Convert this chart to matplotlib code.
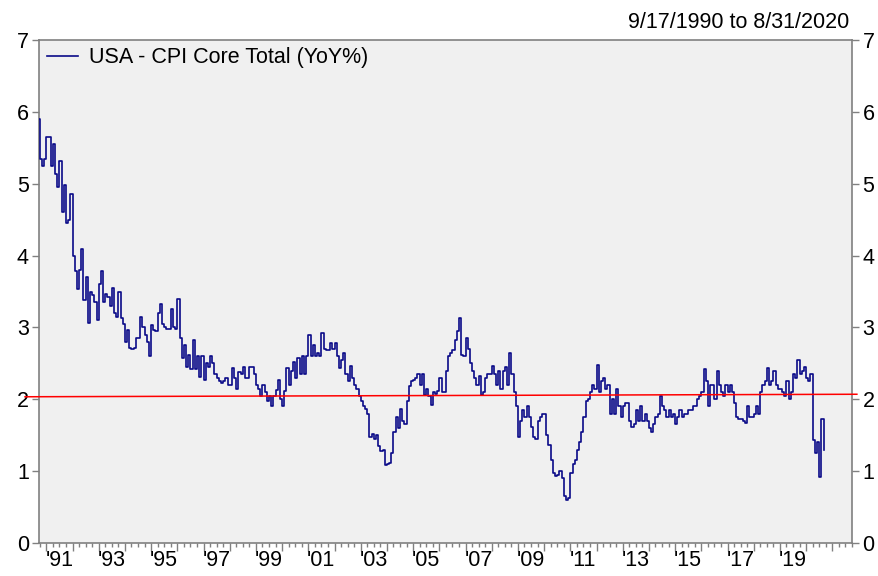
import matplotlib
matplotlib.use("Agg")
import matplotlib.pyplot as plt
import matplotlib.dates as mdates
import pandas as pd

# --- data: USA CPI core, YoY %, monthly readings (Sep 1990 .. Aug 2020) ---
cpi_1990 = [5.9, 5.35, 5.25, 5.35]  # Sep-Dec
cpi_1991 = [5.65, 5.65, 5.25, 5.55, 5.14, 4.96, 5.32, 4.6, 4.98, 4.45, 4.5, 4.85]
cpi_1992 = [4.0, 3.78, 3.54, 3.8, 4.09, 3.38, 3.7, 3.06, 3.5, 3.45, 3.35, 3.1]
cpi_1993 = [3.6, 3.78, 3.36, 3.47, 3.42, 3.3, 3.55, 3.2, 3.15, 3.5, 3.13, 3.05]
cpi_1994 = [2.8, 2.96, 2.72, 2.7, 2.72, 2.85, 2.85, 3.14, 3.0, 2.9, 2.8, 2.6]
cpi_1995 = [3.03, 2.97, 2.95, 3.2, 3.33, 3.05, 3.0, 2.98, 2.98, 3.25, 3.0, 2.98]
cpi_1996 = [3.4, 2.85, 2.57, 2.75, 2.45, 2.62, 2.42, 2.82, 2.42, 2.6, 2.31, 2.6]
cpi_1997 = [2.27, 2.5, 2.45, 2.6, 2.5, 2.35, 2.3, 2.25, 2.22, 2.25, 2.3, 2.2]
cpi_1998 = [2.2, 2.43, 2.3, 2.15, 2.38, 2.35, 2.45, 2.3, 2.3, 2.45, 2.45, 2.35]
cpi_1999 = [2.2, 2.15, 2.04, 2.2, 2.1, 1.97, 2.04, 1.9, 2.05, 2.13, 2.27, 2.0]
cpi_2000 = [1.9, 2.12, 2.43, 2.2, 2.4, 2.52, 2.3, 2.57, 2.35, 2.6, 2.35, 2.6]
cpi_2001 = [2.89, 2.6, 2.75, 2.6, 2.65, 2.6, 2.92, 2.7, 2.68, 2.68, 2.78, 2.7]
cpi_2002 = [2.78, 2.6, 2.43, 2.55, 2.65, 2.35, 2.25, 2.47, 2.3, 2.2, 2.15, 2.04]
cpi_2003 = [1.97, 1.9, 1.87, 1.8, 1.48, 1.52, 1.45, 1.5, 1.35, 1.28, 1.3, 1.09]
cpi_2004 = [1.1, 1.12, 1.25, 1.55, 1.76, 1.6, 1.87, 1.7, 1.66, 1.97, 2.18, 2.25]
cpi_2005 = [2.27, 2.3, 2.35, 2.2, 2.35, 2.06, 2.15, 2.05, 1.92, 2.1, 2.08, 2.12]
cpi_2006 = [2.3, 2.1, 2.1, 2.4, 2.6, 2.65, 2.69, 2.82, 2.95, 3.13, 2.62, 2.6]
cpi_2007 = [2.85, 2.7, 2.5, 2.4, 2.29, 2.2, 2.33, 2.06, 2.1, 2.3, 2.35, 2.35]
cpi_2008 = [2.46, 2.35, 2.2, 2.4, 2.15, 2.4, 2.45, 2.2, 2.64, 2.35, 2.1, 1.9]
cpi_2009 = [1.48, 1.7, 1.85, 1.75, 1.91, 1.75, 1.62, 1.48, 1.45, 1.7, 1.75, 1.8]
cpi_2010 = [1.8, 1.5, 1.36, 1.15, 0.97, 0.93, 0.94, 1.0, 0.9, 0.65, 0.6, 0.63]
cpi_2011 = [0.97, 1.1, 1.15, 1.3, 1.4, 1.55, 1.76, 1.97, 2.0, 2.1, 2.2, 2.15]
cpi_2012 = [2.48, 2.1, 2.25, 2.3, 2.15, 2.2, 1.8, 2.0, 1.8, 2.15, 1.9, 1.75]
cpi_2013 = [1.9, 1.95, 1.95, 1.7, 1.62, 1.65, 1.85, 1.7, 1.9, 1.7, 1.8, 1.7]
cpi_2014 = [1.6, 1.55, 1.65, 1.75, 1.8, 2.05, 1.9, 1.85, 1.75, 1.85, 1.75, 1.8]
cpi_2015 = [1.65, 1.75, 1.85, 1.75, 1.8, 1.8, 1.85, 1.85, 1.9, 1.9, 2.0, 2.05]
cpi_2016 = [2.1, 2.42, 2.25, 1.9, 2.2, 2.2, 2.0, 2.4, 2.2, 2.1, 2.05, 2.2]
cpi_2017 = [2.1, 2.2, 2.1, 1.95, 1.75, 1.72, 1.72, 1.7, 1.67, 1.9, 1.75, 1.75]
cpi_2018 = [1.8, 1.9, 1.8, 2.1, 2.2, 2.25, 2.43, 2.2, 2.25, 2.4, 2.2, 2.15]
cpi_2019 = [2.15, 2.1, 2.05, 2.25, 2.0, 2.1, 2.35, 2.3, 2.55, 2.35, 2.4, 2.45]
cpi_2020 = [2.3, 2.25, 2.35, 1.43, 1.25, 1.4, 0.92, 1.72]  # Jan-Aug
cpi_last = 1.3  # reading on 8/31/2020

# red reference line, value at its left and right end
ref_line = [2.035, 2.07]

year_labels = ["'91", "'93", "'95", "'97", "'99", "'01", "'03", "'05",
               "'07", "'09", "'11", "'13", "'15", "'17", "'19"]

values = (cpi_1990 + cpi_1991 + cpi_1992 + cpi_1993 + cpi_1994 + cpi_1995
          + cpi_1996 + cpi_1997 + cpi_1998 + cpi_1999 + cpi_2000 + cpi_2001
          + cpi_2002 + cpi_2003 + cpi_2004 + cpi_2005 + cpi_2006 + cpi_2007
          + cpi_2008 + cpi_2009 + cpi_2010 + cpi_2011 + cpi_2012 + cpi_2013
          + cpi_2014 + cpi_2015 + cpi_2016 + cpi_2017 + cpi_2018 + cpi_2019
          + cpi_2020 + [cpi_last])
dates = list(pd.date_range("1990-09-01", "2020-08-01", freq="MS"))
dates[0] = pd.Timestamp("1990-09-17")
dates.append(pd.Timestamp("2020-08-31"))
dates = mdates.date2num(dates)

plt.rcParams["font.family"] = ["Liberation Sans", "DejaVu Sans"]
FS = 15.5
GREY = "#808080"

fig = plt.figure(figsize=(8.79, 5.76), dpi=100)
ax = fig.add_axes([39.3 / 879, 33 / 576, 812.7 / 879, 503 / 576])
ax.set_facecolor("#F0F0F0")

ax.step(dates, values, where="post", color="#0A0A88", lw=1.2,
        label="USA - CPI Core Total (YoY%)", zorder=3)

# reference line runs a little past both spines
ref_x = mdates.date2num([pd.Timestamp("1990-03-10"), pd.Timestamp("2021-12-08")])
ax.plot(ref_x, ref_line, color="#FF0000", lw=1.1, zorder=4, clip_on=False)

ax.set_xlim(mdates.date2num(pd.Timestamp("1990-09-25")),
            mdates.date2num(pd.Timestamp("2021-10-01")))
ax.set_ylim(0, 7)

# y axis on both sides
ax.set_yticks(range(8))
ax.tick_params(axis="y", which="both", direction="out", length=5, width=1,
               color=GREY, labelsize=FS, pad=2.5, left=True, right=True,
               labelleft=True, labelright=True)

# x axis: yearly major ticks, quarterly minor ticks, labels mid-year
ax.xaxis.set_major_locator(mdates.YearLocator())
ax.xaxis.set_minor_locator(mdates.MonthLocator(bymonth=[4, 7, 10]))
ax.tick_params(axis="x", which="major", direction="out", length=6, width=1,
               color=GREY, labelbottom=False)
ax.tick_params(axis="x", which="minor", direction="out", length=3, width=1,
               color=GREY)
for i, lab in enumerate(year_labels):
    xm = mdates.date2num(pd.Timestamp(f"{1991 + 2 * i}-07-01"))
    ax.annotate(lab, (xm, 0), xycoords=("data", "axes fraction"),
                xytext=(0, -5), textcoords="offset points",
                ha="center", va="top", fontsize=FS)

for s in ax.spines.values():
    s.set_color(GREY)
    s.set_linewidth(1.2)

ax.annotate("9/17/1990 to 8/31/2020", (1.0, 1.0), xycoords="axes fraction",
            xytext=(-2, 5), textcoords="offset points",
            ha="right", va="bottom", fontsize=FS)

ax.legend(loc="upper left", bbox_to_anchor=(0.009, 0.986),
          frameon=False, fontsize=FS, handlelength=1.45,
          handletextpad=0.5, borderaxespad=0, borderpad=0)

fig.savefig("out.png", dpi=100)
